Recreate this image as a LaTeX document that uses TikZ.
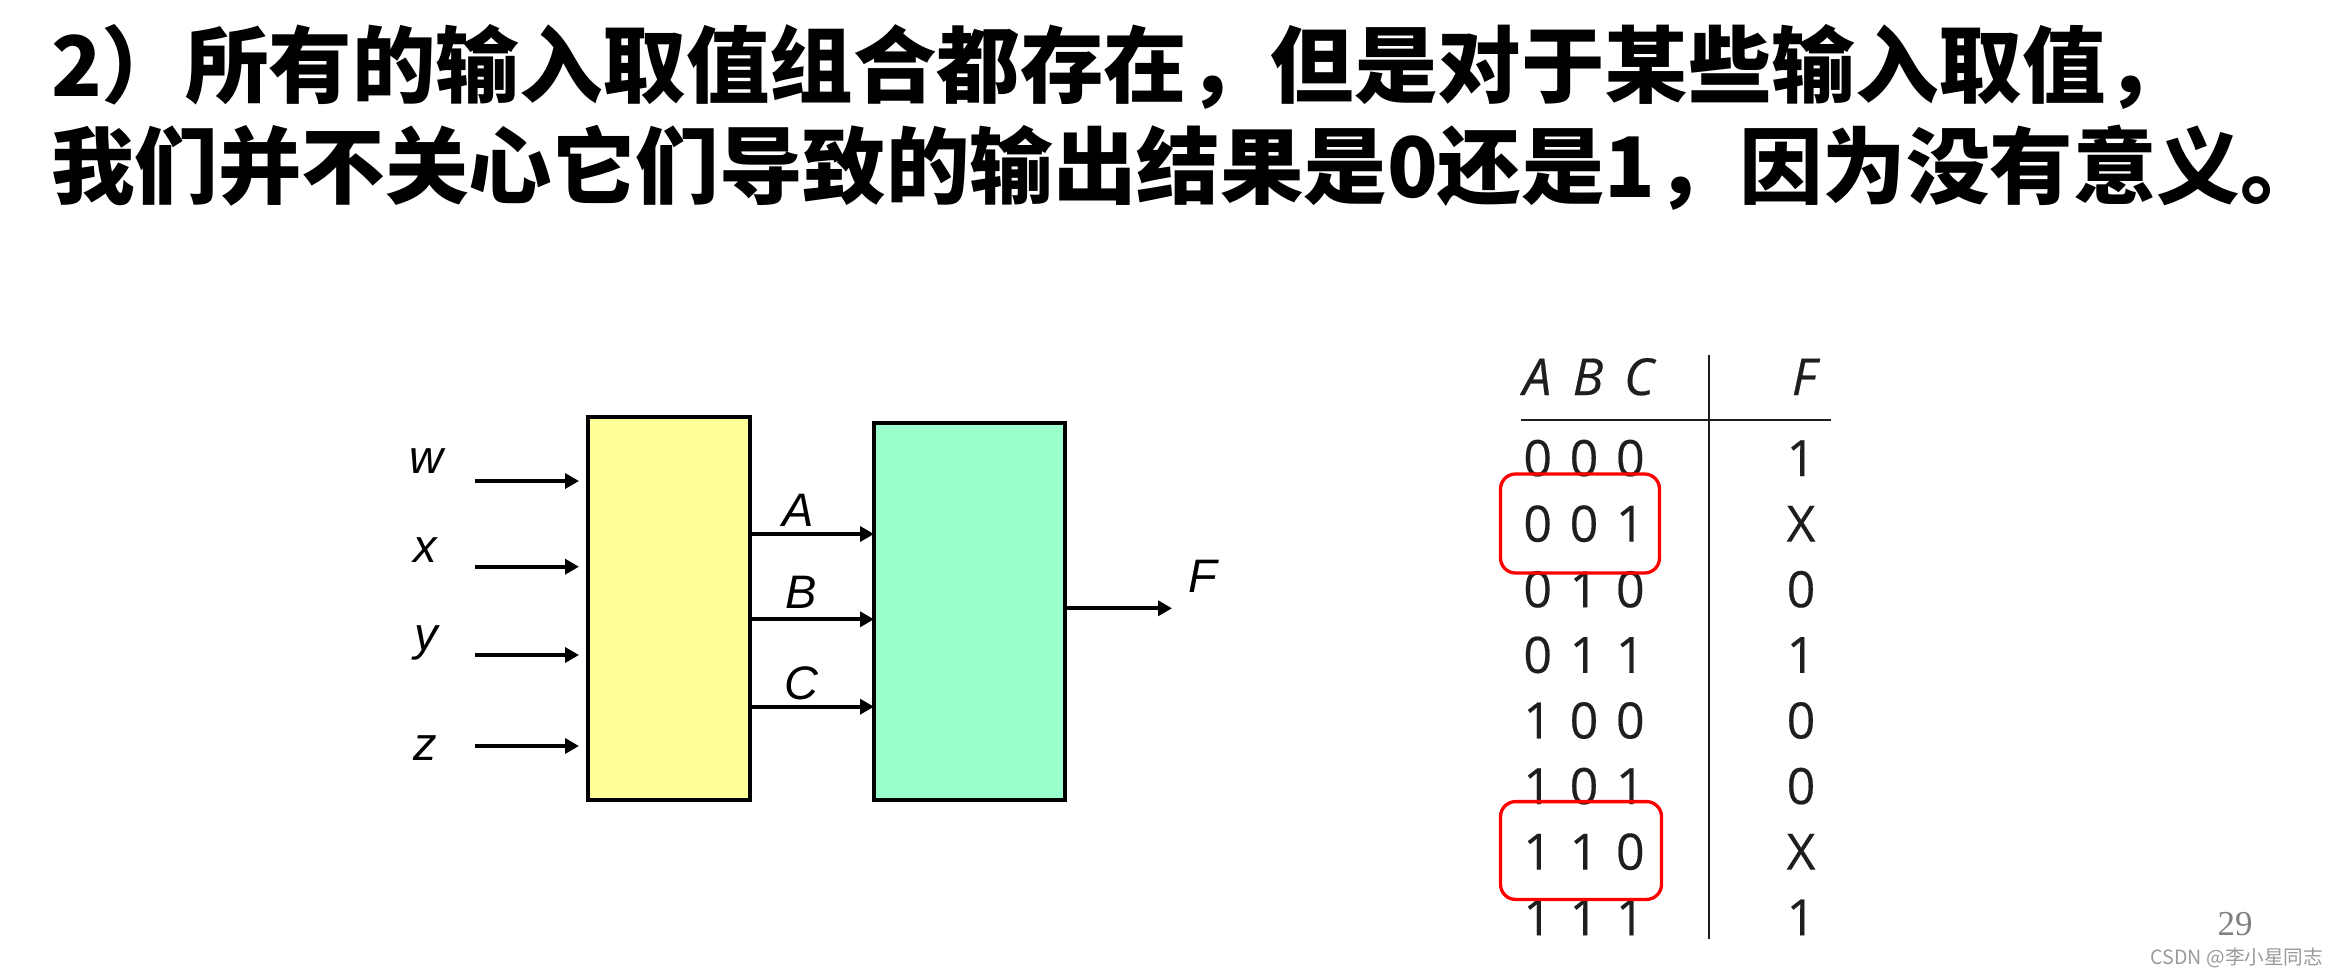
\documentclass[tikz,border=0pt]{standalone}
\usepackage{fontspec}
\setmainfont{Liberation Sans}
\newfontfamily\cjk{Noto Sans CJK SC}
\newfontfamily\tabfont[FakeBold=0.4]{Open Sans}
\newfontfamily\seriffont{Liberation Serif}
\usetikzlibrary{arrows.meta}
\definecolor{boxyellow}{HTML}{FFFF99}
\definecolor{boxgreen}{HTML}{99FFCC}
\definecolor{markred}{HTML}{FF0000}
\definecolor{tabgray}{HTML}{1E1E1E}
\definecolor{pgray}{HTML}{808080}
\definecolor{wgray}{HTML}{9A9A9A}
\begin{document}
\begin{tikzpicture}[x=0.5pt,y=-0.5pt,
  every node/.style={inner sep=0pt, outer sep=0pt},
  title/.style={font=\cjk\bfseries\fontsize{41.75pt}{50pt}\selectfont, anchor=base west},
  lbl/.style={font=\itshape\fontsize{23.5pt}{28pt}\selectfont, anchor=base},
  block/.style={draw=black, line width=2pt},
  arr/.style={line width=2pt, -{Triangle[length=7pt,width=7.5pt]}},
  digits/.style={font=\tabfont\fontsize{25pt}{30pt}\selectfont, text=tabgray, anchor=base},
  hdr/.style={font=\tabfont\itshape\fontsize{25.5pt}{30pt}\selectfont, text=tabgray, anchor=base},
  redmark/.style={draw=markred, line width=1.65pt, rounded corners=7.5pt},
  tabrule/.style={draw=tabgray, line width=1pt}
]
\fill[white] (0,0) rectangle (2337,975);
\useasboundingbox (0,0) rectangle (2337,975);

% title
\node[title] (t1) at (51,96) {2）所有的输入取值组合都存在，但是对于某些输入取值，};
\node[title] (t2) at (51,197) {我们并不关心它们导致的输出结果是0还是1，因为没有意义。};

% blocks
\node[block, fill=boxyellow, minimum width=81pt, minimum height=191.5pt] (yb) at (669,608.5) {};
\node[block, fill=boxgreen, minimum width=95.5pt, minimum height=188.5pt] (gb) at (969.5,611.5) {};

% inputs
\coordinate (w0) at (475,481);
\coordinate (x0) at (475,566.7);
\coordinate (y0) at (475,655);
\coordinate (z0) at (475,746);
\draw[arr, shorten >=4.5pt] (w0) -- (w0 -| yb.west);
\draw[arr, shorten >=4.5pt] (x0) -- (x0 -| yb.west);
\draw[arr, shorten >=4.5pt] (y0) -- (y0 -| yb.west);
\draw[arr, shorten >=4.5pt] (z0) -- (z0 -| yb.west);
\node[lbl] (lw) at (426,473.3) {w};
\node[lbl] (lx) at (425,562.7) {x};
\node[lbl] (ly) at (426,650) {y};
\node[lbl] (lz) at (425.5,760) {z};

% internal signals
\draw[arr] (yb.east |- 0,534) -- (gb.west |- 0,534);
\draw[arr] (yb.east |- 0,619.3) -- (gb.west |- 0,619.3);
\draw[arr] (yb.east |- 0,706.7) -- (gb.west |- 0,706.7);
\node[lbl] (lA) at (798,526.7) {A};
\node[lbl] (lB) at (801,608.3) {B};
\node[lbl] (lC) at (801,699.5) {C};

% output
\coordinate (fout) at (1172,608.3);
\draw[arr] (gb.east |- fout) -- (fout);
\node[lbl] (lF) at (1203,592.7) {F};

% truth table
\node[hdr] (hABC) at (1588,395) {\makebox[25.5pt]{A}\makebox[25.5pt]{B}\makebox[25.5pt]{C}};
\node[hdr] (hF) at (1804,395) {F};
\draw[tabrule] (1521,420) -- (1831,420);
\draw[tabrule] (1709.3,354.5) -- (1709.3,938.7);

\foreach \i/\a/\b/\c/\f in {1/0/0/0/1, 2/0/0/1/X, 3/0/1/0/0, 4/0/1/1/1, 5/1/0/0/0, 6/1/0/1/0, 7/1/1/0/X, 8/1/1/1/1}{
  \node[digits] (r\i) at (1584,{476+65.6*(\i-1)}) {\makebox[23.15pt]{\a}\makebox[23.15pt]{\b}\makebox[23.15pt]{\c}};
  \node[digits] (f\i) at (1801,{476+65.6*(\i-1)}) {\f};
}

\node[redmark, minimum width=79.5pt, minimum height=49.5pt] (m1) at (1580,523.5) {};
\node[redmark, minimum width=80.5pt, minimum height=48.9pt] (m2) at (1581,850.5) {};

% footer
\node[font=\seriffont\fontsize{17.5pt}{20pt}\selectfont, text=pgray, anchor=base] (pg) at (2235,935) {29};
\node[font=\cjk\fontsize{9.8pt}{12pt}\selectfont, text=wgray, anchor=base east] (wm) at (2323,964) {CSDN @李小星同志};
\end{tikzpicture}
\end{document}
